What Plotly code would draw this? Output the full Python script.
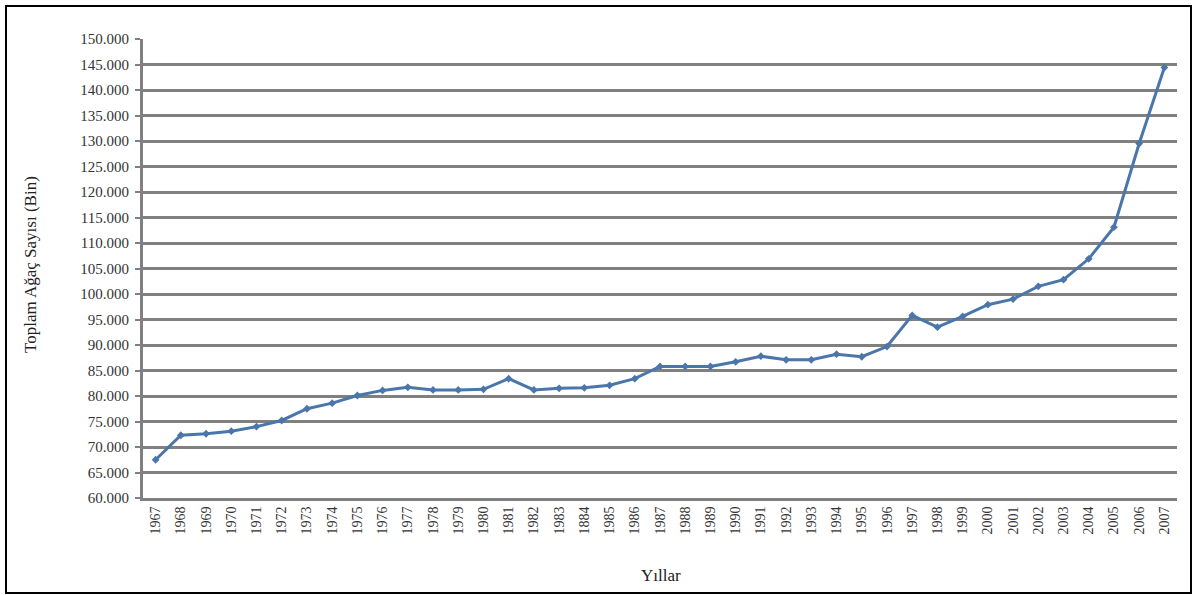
import plotly.graph_objects as go

# Total number of trees per year (thousands)
years = ["1967", "1968", "1969", "1970", "1971", "1972", "1973", "1974", "1975", "1976",
         "1977", "1978", "1979", "1980", "1981", "1982", "1983", "1884", "1985", "1986",
         "1987", "1988", "1989", "1990", "1991", "1992", "1993", "1994", "1995", "1996",
         "1997", "1998", "1999", "2000", "2001", "2002", "2003", "2004", "2005", "2006",
         "2007"]
trees = [67500, 72300, 72600, 73100, 74000, 75200, 77500, 78600, 80100, 81100,
         81700, 81200, 81200, 81300, 83400, 81200, 81500, 81600, 82100, 83400,
         85800, 85800, 85800, 86700, 87800, 87100, 87100, 88200, 87700, 89700,
         95800, 93500, 95600, 97900, 99000, 101500, 102800, 106900, 113100, 129500,
         144400]
y_ticks = list(range(60000, 150001, 5000))

serif = "Liberation Serif, Times New Roman, serif"
grid = "#808080"

fig = go.Figure()
fig.add_trace(go.Scatter(
    x=years, y=trees, mode="lines+markers",
    line=dict(color="#4A76AA", width=3),
    marker=dict(symbol="diamond", size=6, color="#4A76AA"),
    showlegend=False,
))

L, R, T, B = 143, 19, 39, 97
W, H = 1196, 595
pw, ph = W - L - R, H - T - B

def px(xp):
    return (xp - L) / pw

def py(yp):
    return (H - B - yp) / ph

fig.update_layout(
    width=W, height=H,
    margin=dict(l=L, r=R, t=T, b=B, autoexpand=False),
    paper_bgcolor="white", plot_bgcolor="white",
    separators=",.",
    font=dict(family=serif, color="#333333", size=12),
    xaxis=dict(
        type="category", range=[-0.5, len(years) - 0.5],
        showgrid=False, showline=True, linecolor=grid, linewidth=3,
        tickangle=-90, tickfont=dict(family=serif, size=14, color="#333333"),
        ticks="", fixedrange=True,
    ),
    yaxis=dict(
        range=[60000, 150000], tickvals=y_ticks, tickformat=",d",
        showgrid=True, gridcolor=grid, gridwidth=3,
        showline=True, linecolor=grid, linewidth=3,
        ticks="outside", ticklen=5, tickwidth=2, tickcolor=grid,
        ticklabelstandoff=3,
        tickfont=dict(family=serif, size=15, color="#333333"),
        zeroline=False, fixedrange=True,
    ),
    annotations=[
        dict(text="Toplam Ağaç Sayısı (Bin)", xref="paper", yref="paper",
             x=px(30), y=py(265), xanchor="center", yanchor="middle",
             textangle=-90, showarrow=False,
             font=dict(family=serif, size=17, color="#222222")),
        dict(text="Yıllar", xref="paper", yref="paper",
             x=px(661), y=py(575), xanchor="center", yanchor="middle",
             showarrow=False,
             font=dict(family=serif, size=17, color="#222222")),
    ],
    shapes=[
        dict(type="rect", xref="paper", yref="paper",
             x0=px(6), x1=px(1191), y0=py(593), y1=py(6),
             line=dict(color="black", width=2), layer="below"),
    ],
)

fig.write_html("out.html")
